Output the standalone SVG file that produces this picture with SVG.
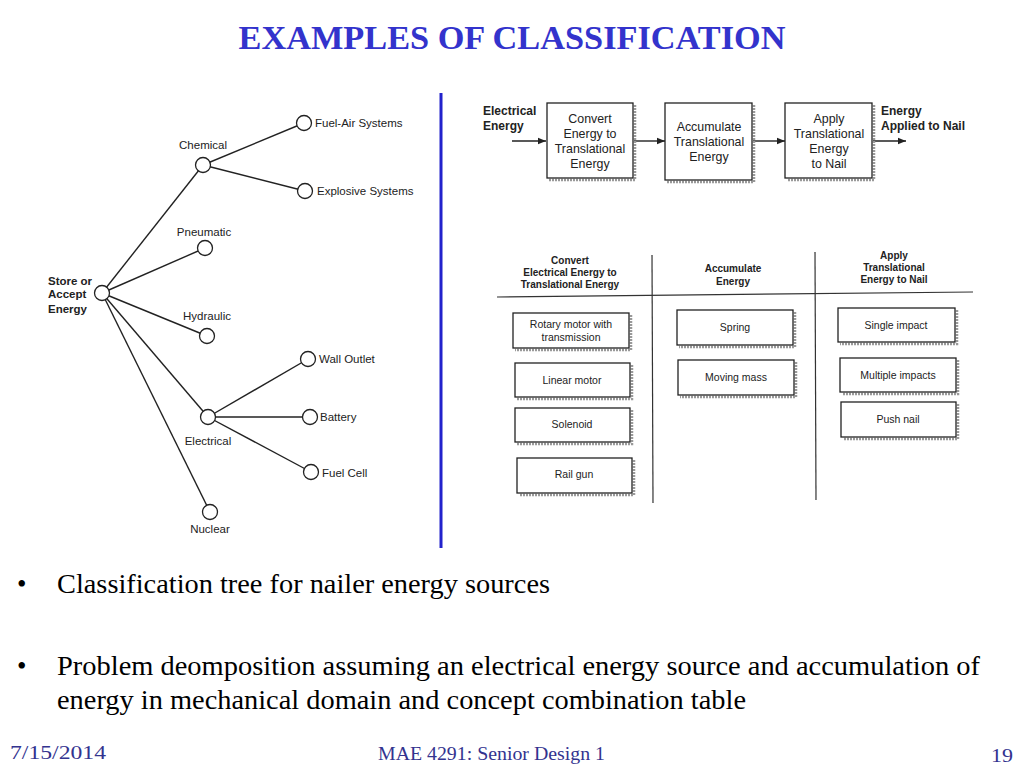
<svg xmlns="http://www.w3.org/2000/svg" width="1024" height="768" viewBox="0 0 1024 768">
<defs>
<style>
.title{font-family:"Liberation Serif","Times New Roman",serif;font-weight:bold;font-size:34.3px;fill:#3333cc}
.body{font-family:"Liberation Serif","Times New Roman",serif;font-size:27px;fill:#000}
.foot{font-family:"Liberation Serif","Times New Roman",serif;font-size:19px;fill:#33338f}
.tl{font-family:"Liberation Sans",Arial,sans-serif;font-size:11.5px;fill:#222}
.tlb{font-family:"Liberation Sans",Arial,sans-serif;font-size:11.5px;font-weight:bold;fill:#222}
.fb{font-family:"Liberation Sans",Arial,sans-serif;font-size:12.4px;fill:#222;text-anchor:middle}
.fbb{font-family:"Liberation Sans",Arial,sans-serif;font-size:12px;font-weight:bold;fill:#222}
.th{font-family:"Liberation Sans",Arial,sans-serif;font-size:10px;font-weight:bold;fill:#222;text-anchor:middle}
.tc{font-family:"Liberation Sans",Arial,sans-serif;font-size:10.5px;fill:#222;text-anchor:middle}
.node{fill:#fff;stroke:#222;stroke-width:1.3}
.edge{stroke:#222;stroke-width:1.4;fill:none}
.box{fill:#fff;stroke:#222;stroke-width:1.3}
.shadow{fill:none;stroke:#999;stroke-width:2.5;stroke-dasharray:2 1}
.rule{stroke:#333;stroke-width:1.2;fill:none}
</style>
<marker id="arr" viewBox="0 0 10 10" refX="10" refY="5" markerWidth="8" markerHeight="8" orient="auto" markerUnits="userSpaceOnUse">
<path d="M0,1 L10,5 L0,9 Z" fill="#222"/>
</marker>
</defs>
<rect width="1024" height="768" fill="#fff"/>

<text class="title" x="512" y="49" text-anchor="middle">EXAMPLES OF CLASSIFICATION</text>

<!-- Tree connectors -->
<g id="tree-connectors">
<line class="edge" x1="102" y1="293" x2="203" y2="165"/>
<line class="edge" x1="102" y1="293" x2="205" y2="248"/>
<line class="edge" x1="102" y1="293" x2="207" y2="336"/>
<line class="edge" x1="102" y1="293" x2="208" y2="417"/>
<line class="edge" x1="102" y1="293" x2="210" y2="512"/>
<line class="edge" x1="203" y1="165" x2="304" y2="123"/>
<line class="edge" x1="203" y1="165" x2="305" y2="191"/>
<line class="edge" x1="208" y1="417" x2="308" y2="359"/>
<line class="edge" x1="208" y1="417" x2="310" y2="417"/>
<line class="edge" x1="208" y1="417" x2="311" y2="472"/>
</g>

<g id="n-root"><circle class="node" cx="102" cy="293" r="7.5"/>
<text class="tlb" x="48" y="285">Store or</text><text class="tlb" x="48" y="298">Accept</text><text class="tlb" x="48" y="313">Energy</text></g>
<g id="n-chemical"><circle class="node" cx="203" cy="165" r="7.5"/><text class="tl" x="203" y="149" text-anchor="middle">Chemical</text></g>
<g id="n-fuelair"><circle class="node" cx="304" cy="123" r="7.5"/><text class="tl" x="315" y="127">Fuel-Air Systems</text></g>
<g id="n-explosive"><circle class="node" cx="305" cy="191" r="7.5"/><text class="tl" x="317" y="195">Explosive Systems</text></g>
<g id="n-pneumatic"><circle class="node" cx="205" cy="248" r="7.5"/><text class="tl" x="204" y="236" text-anchor="middle">Pneumatic</text></g>
<g id="n-hydraulic"><circle class="node" cx="207" cy="336" r="7.5"/><text class="tl" x="207" y="320" text-anchor="middle">Hydraulic</text></g>
<g id="n-electrical"><circle class="node" cx="208" cy="417" r="7.5"/><text class="tl" x="208" y="445" text-anchor="middle">Electrical</text></g>
<g id="n-walloutlet"><circle class="node" cx="308" cy="359" r="7.5"/><text class="tl" x="319" y="363">Wall Outlet</text></g>
<g id="n-battery"><circle class="node" cx="310" cy="417" r="7.5"/><text class="tl" x="320" y="421">Battery</text></g>
<g id="n-fuelcell"><circle class="node" cx="311" cy="472" r="7.5"/><text class="tl" x="322" y="477">Fuel Cell</text></g>
<g id="n-nuclear"><circle class="node" cx="210" cy="512" r="7.5"/><text class="tl" x="210" y="533" text-anchor="middle">Nuclear</text></g>

<!-- Divider -->
<line x1="441" y1="93" x2="441" y2="548" stroke="#2222cc" stroke-width="3"/>

<!-- Flow diagram -->
<g id="flow-connectors">
<line class="edge" x1="512" y1="141" x2="546" y2="141" marker-end="url(#arr)"/>
<line class="edge" x1="634" y1="141" x2="665" y2="141" marker-end="url(#arr)"/>
<line class="edge" x1="753" y1="141" x2="785" y2="141" marker-end="url(#arr)"/>
<line class="edge" x1="873" y1="141" x2="906" y2="141" marker-end="url(#arr)"/>
</g>
<g id="flow-in"><text class="fbb" x="483" y="115">Electrical</text><text class="fbb" x="483" y="130">Energy</text></g>
<g id="flow-convert">
<polyline class="shadow" points="635,105 635,180 549,180"/>
<rect class="box" x="547" y="103" width="86" height="75"/>
<text class="fb" x="590" y="123">Convert</text><text class="fb" x="590" y="138">Energy to</text><text class="fb" x="590" y="153">Translational</text><text class="fb" x="590" y="168">Energy</text></g>
<g id="flow-accumulate">
<polyline class="shadow" points="754,105 754,182 667,182"/>
<rect class="box" x="665" y="103" width="87" height="77"/>
<text class="fb" x="709" y="131">Accumulate</text><text class="fb" x="709" y="146">Translational</text><text class="fb" x="709" y="161">Energy</text></g>
<g id="flow-apply">
<polyline class="shadow" points="874,105 874,180 787,180"/>
<rect class="box" x="785" y="103" width="87" height="75"/>
<text class="fb" x="829" y="123">Apply</text><text class="fb" x="829" y="138">Translational</text><text class="fb" x="829" y="153">Energy</text><text class="fb" x="829" y="168">to Nail</text></g>
<g id="flow-out"><text class="fbb" x="881" y="115">Energy</text><text class="fbb" x="881" y="130">Applied to Nail</text></g>

<!-- Table -->
<g id="table-rules">
<line class="rule" x1="497" y1="297" x2="973" y2="292"/>
<line class="rule" x1="652" y1="255" x2="653" y2="503"/>
<line class="rule" x1="815" y1="252" x2="816" y2="500"/>
</g>
<g id="hdr-convert"><text class="th" x="570" y="264">Convert</text><text class="th" x="570" y="276">Electrical Energy to</text><text class="th" x="570" y="288">Translational Energy</text></g>
<g id="hdr-accumulate"><text class="th" x="733" y="272">Accumulate</text><text class="th" x="733" y="285">Energy</text></g>
<g id="hdr-apply"><text class="th" x="894" y="259">Apply</text><text class="th" x="894" y="271">Translational</text><text class="th" x="894" y="283">Energy to Nail</text></g>

<g id="c-rotary"><polyline class="shadow" points="631,315 631,350 515,350"/><rect class="box" x="513" y="313" width="116" height="35"/>
<text class="tc" x="571" y="328">Rotary motor with</text><text class="tc" x="571" y="341">transmission</text></g>
<g id="c-linear"><polyline class="shadow" points="632,365 632,399 517,399"/><rect class="box" x="515" y="363" width="115" height="34"/>
<text class="tc" x="572" y="384">Linear motor</text></g>
<g id="c-solenoid"><polyline class="shadow" points="632,410 632,444 517,444"/><rect class="box" x="515" y="408" width="115" height="34"/>
<text class="tc" x="572" y="428">Solenoid</text></g>
<g id="c-railgun"><polyline class="shadow" points="634,460 634,495 519,495"/><rect class="box" x="517" y="458" width="115" height="35"/>
<text class="tc" x="574" y="478">Rail gun</text></g>
<g id="c-spring"><polyline class="shadow" points="795,312 795,347 679,347"/><rect class="box" x="677" y="310" width="116" height="35"/>
<text class="tc" x="735" y="331">Spring</text></g>
<g id="c-movingmass"><polyline class="shadow" points="796,362 796,397 680,397"/><rect class="box" x="678" y="360" width="116" height="35"/>
<text class="tc" x="736" y="381">Moving mass</text></g>
<g id="c-single"><polyline class="shadow" points="957,310 957,344 840,344"/><rect class="box" x="838" y="308" width="117" height="34"/>
<text class="tc" x="896" y="329">Single impact</text></g>
<g id="c-multiple"><polyline class="shadow" points="958,360 958,394 842,394"/><rect class="box" x="840" y="358" width="116" height="34"/>
<text class="tc" x="898" y="379">Multiple impacts</text></g>
<g id="c-push"><polyline class="shadow" points="958,404 958,439 843,439"/><rect class="box" x="841" y="402" width="115" height="35"/>
<text class="tc" x="898" y="423">Push nail</text></g>

<!-- Bullets -->
<text class="body" x="17" y="593">•</text>
<text class="body" x="57" y="593" textLength="493" lengthAdjust="spacingAndGlyphs">Classification tree for nailer energy sources</text>
<text class="body" x="17" y="675">•</text>
<text class="body" x="57" y="675" textLength="923" lengthAdjust="spacingAndGlyphs">Problem deomposition assuming an electrical energy source and accumulation of</text>
<text class="body" x="57" y="709" textLength="689" lengthAdjust="spacingAndGlyphs">energy in mechanical domain and concept combination table</text>

<!-- Footer -->
<text class="foot" x="10" y="759" textLength="96" lengthAdjust="spacingAndGlyphs">7/15/2014</text>
<text class="foot" x="378" y="760" textLength="227" lengthAdjust="spacingAndGlyphs">MAE 4291: Senior Design 1</text>
<text class="foot" x="991" y="762" textLength="22" lengthAdjust="spacingAndGlyphs">19</text>
</svg>
